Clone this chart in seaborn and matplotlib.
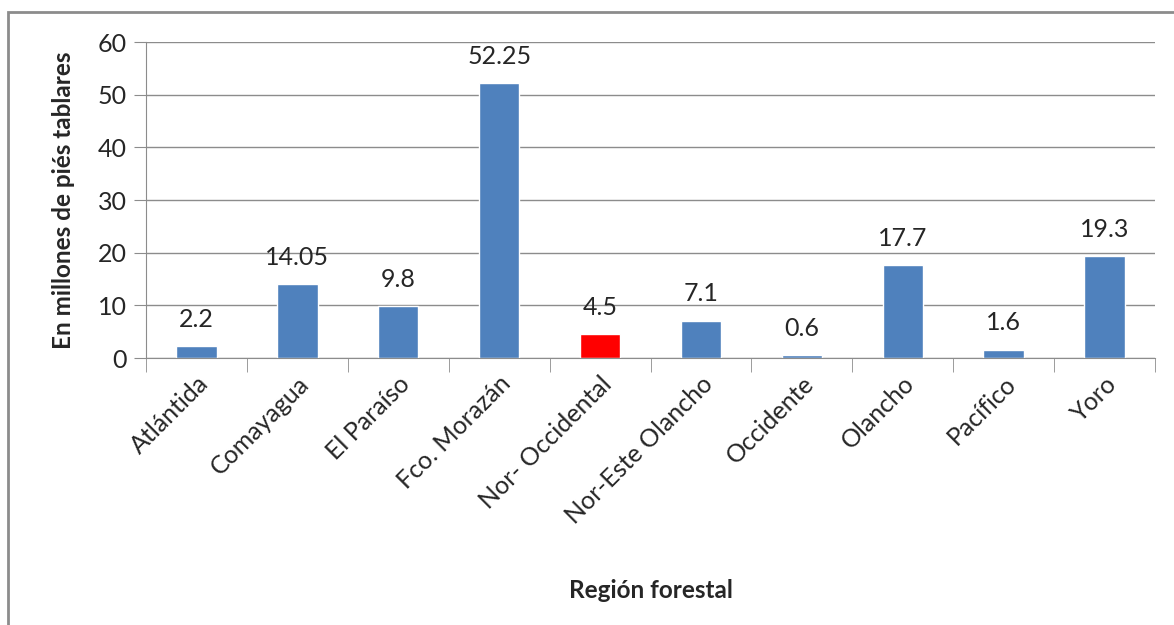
import pandas as pd
import matplotlib.pyplot as plt
import seaborn as sns
from matplotlib.patches import Rectangle

# Datos
regiones = ['Atlántida', 'Comayagua', 'El Paraíso', 'Fco. Morazán', 'Nor- Occidental',
            'Nor-Este Olancho', 'Occidente', 'Olancho', 'Pacífico', 'Yoro']
valores = [2.2, 14.05, 9.8, 52.25, 4.5, 7.1, 0.6, 17.7, 1.6, 19.3]
etiquetas = ['2.2', '14.05', '9.8', '52.25', '4.5', '7.1', '0.6', '17.7', '1.6', '19.3']
colores = ['#4F81BD', '#4F81BD', '#4F81BD', '#4F81BD', '#FF0000',
           '#4F81BD', '#4F81BD', '#4F81BD', '#4F81BD', '#4F81BD']

df = pd.DataFrame({'region': regiones, 'valor': valores})

sns.set_style('white')
plt.rcParams['font.family'] = ['Lato', 'DejaVu Sans']

fig = plt.figure(figsize=(11.74, 6.25), dpi=100)
ax = fig.add_axes([146 / 1174, 1 - 358 / 625, (1155 - 146) / 1174, (358 - 42) / 625])

sns.barplot(data=df, x='region', y='valor', hue='region', palette=colores,
            legend=False, width=0.4, saturation=1, ax=ax)

ax.set_ylim(0, 60)
ax.set_xlim(-0.5, len(regiones) - 0.5)
ax.set_yticks(range(0, 61, 10))
ax.yaxis.grid(True, color='#8C8C8C', linewidth=1)
ax.set_axisbelow(True)
for s in ['top', 'right']:
    ax.spines[s].set_visible(False)
ax.spines['left'].set_color('#8C8C8C')
ax.spines['bottom'].set_color('#8C8C8C')

# marcas del eje x entre categorias
ax.set_xticks([i - 0.5 for i in range(len(regiones) + 1)], minor=True)
ax.tick_params(axis='x', which='minor', length=10, color='#8C8C8C', bottom=True)
ax.tick_params(axis='x', which='major', length=0, pad=10)
ax.tick_params(axis='y', length=9, color='#8C8C8C', left=True, labelsize=18, pad=5)
ax.set_xticks(range(len(regiones)))
ax.set_xticklabels(regiones, rotation=45, ha='right', rotation_mode='anchor', fontsize=18)

for i, (v, t) in enumerate(zip(valores, etiquetas)):
    ax.annotate(t, (i, v), xytext=(0, 11), textcoords='offset points',
                ha='center', va='bottom', fontsize=18)

ax.set_xlabel('Región forestal', fontsize=17.5, fontweight='bold')
ax.xaxis.set_label_coords(0.5, -0.70)
ax.set_ylabel('En millones de piés tablares', fontsize=17.5, fontweight='bold', labelpad=16)

# marco exterior
fig.patches.append(Rectangle((8 / 1174, -0.1), 1.2, 1 - 12 / 625 + 0.1,
                             transform=fig.transFigure, fill=False,
                             edgecolor='#8C8C8C', linewidth=2))

plt.savefig('out.png', dpi=100)
